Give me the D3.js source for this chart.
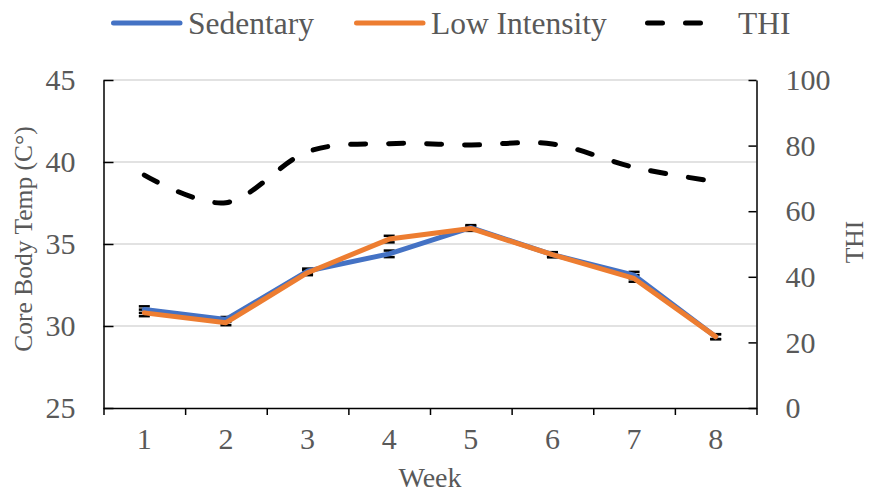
<html>
<head>
<script src="https://cdn.jsdelivr.net/npm/d3@7"></script>
<style>
  body { margin: 0; background: #fff; }
  text { font-family: "Liberation Serif", "Times New Roman", serif; fill: #595959; }
  .grid line { stroke: #d9d9d9; stroke-width: 1.5; }
  .axis path, .axis line { stroke: #000; stroke-width: 1.5; }
</style>
</head>
<body>
<script>
// data
var weeks = ["1", "2", "3", "4", "5", "6", "7", "8"];
var sedentary = [31.0, 30.4, 33.35, 34.4, 36.0, 34.35, 33.1, 29.35];
var sedentaryErr = [0.2, 0.15, 0.15, 0.2, 0.15, 0.15, 0.2, 0.15];
var lowIntensity = [30.8, 30.2, 33.25, 35.3, 35.95, 34.35, 32.9, 29.35];
var lowIntensityErr = [0.2, 0.15, 0.15, 0.2, 0.15, 0.15, 0.2, 0.15];
var thi = [71.0, 62.6, 78.1, 80.6, 80.2, 80.5, 73.4, 69.0];
var leftTicks = [25, 30, 35, 40, 45];
var rightTicks = [0, 20, 40, 60, 80, 100];

var width = 869, height = 493;
var plotLeft = 103.5, plotRight = 756.5, plotTop = 80, plotBottom = 408;

var svg = d3.select("body").append("svg")
    .attr("width", width)
    .attr("height", height);

var x = d3.scaleBand().domain(weeks).range([plotLeft, plotRight]);
var xEdge = d3.scaleLinear().domain([0, weeks.length]).range([plotLeft, plotRight]);
var y = d3.scaleLinear().domain([25, 45]).range([plotBottom, plotTop]);
var y2 = d3.scaleLinear().domain([0, 100]).range([plotBottom, plotTop]);
var cx = function(i) { return x(weeks[i]) + x.bandwidth() / 2; };

// gridlines (left axis)
svg.append("g")
    .attr("class", "grid")
    .selectAll("line")
    .data(leftTicks.slice(1))
    .enter().append("line")
        .attr("x1", plotLeft)
        .attr("x2", plotRight)
        .attr("y1", function(d) { return y(d); })
        .attr("y2", function(d) { return y(d); });

// left axis, ticks inside
svg.append("g")
    .attr("class", "axis")
    .attr("transform", "translate(" + plotLeft + ",0)")
    .call(d3.axisLeft(y).tickValues(leftTicks).tickSize(-10).tickSizeOuter(0).tickPadding(28));

// right axis, ticks inside
svg.append("g")
    .attr("class", "axis")
    .attr("transform", "translate(" + plotRight + ",0)")
    .call(d3.axisRight(y2).tickValues(rightTicks).tickSize(-8).tickSizeOuter(0).tickPadding(29));

// bottom axis: ticks between categories
svg.append("g")
    .attr("class", "axis")
    .attr("transform", "translate(0," + plotBottom + ")")
    .call(d3.axisBottom(xEdge).ticks(weeks.length).tickFormat("").tickSize(7).tickSizeOuter(0));

// bottom labels
var gb = svg.append("g")
    .attr("transform", "translate(0," + plotBottom + ")")
    .call(d3.axisBottom(x).tickSize(0).tickPadding(20));
gb.select(".domain").remove();

svg.selectAll(".tick text")
    .style("font-family", "Liberation Serif")
    .style("font-size", "30px")
    .attr("fill", "#595959");

// axis titles
svg.append("text")
    .attr("transform", "translate(32,239) rotate(-90)")
    .attr("text-anchor", "middle")
    .style("font-size", "25.5px")
    .text("Core Body Temp (C°)");

svg.append("text")
    .attr("transform", "translate(863,242) rotate(-90)")
    .attr("text-anchor", "middle")
    .style("font-size", "25.5px")
    .text("THI");

svg.append("text")
    .attr("x", (plotLeft + plotRight) / 2)
    .attr("y", 487)
    .attr("text-anchor", "middle")
    .style("font-size", "28px")
    .text("Week");

// THI, smoothed dashed line
var thiLine = d3.line()
    .x(function(d, i) { return cx(i); })
    .y(function(d) { return y2(d); })
    .curve(d3.curveCardinal.tension(0));

svg.append("path")
    .datum(thi)
    .attr("d", thiLine)
    .attr("fill", "none")
    .attr("stroke", "#000")
    .attr("stroke-width", 5)
    .attr("stroke-linecap", "round")
    .attr("stroke-dasharray", "15 23");

// error bars
function errorBars(vals, errs) {
    var g = svg.append("g");
    vals.forEach(function(v, i) {
        var xc = cx(i);
        g.append("line")
            .attr("x1", xc).attr("x2", xc)
            .attr("y1", y(v - errs[i])).attr("y2", y(v + errs[i]))
            .attr("stroke", "#000").attr("stroke-width", 1.5);
        [v - errs[i], v + errs[i]].forEach(function(e) {
            g.append("line")
                .attr("x1", xc - 5.5).attr("x2", xc + 5.5)
                .attr("y1", y(e)).attr("y2", y(e))
                .attr("stroke", "#000").attr("stroke-width", 2.5);
        });
    });
}
errorBars(sedentary, sedentaryErr);
errorBars(lowIntensity, lowIntensityErr);

var tempLine = d3.line()
    .x(function(d, i) { return cx(i); })
    .y(function(d) { return y(d); });

svg.append("path")
    .datum(sedentary)
    .attr("d", tempLine)
    .attr("fill", "none")
    .attr("stroke", "#4472c4")
    .attr("stroke-width", 5)
    .attr("stroke-linejoin", "round")
    .attr("stroke-linecap", "round");

svg.append("path")
    .datum(lowIntensity)
    .attr("d", tempLine)
    .attr("fill", "none")
    .attr("stroke", "#ed7d31")
    .attr("stroke-width", 5)
    .attr("stroke-linejoin", "round")
    .attr("stroke-linecap", "round");

// legend
var legend = [
    {name: "Sedentary", color: "#4472c4", dash: null, x: 111},
    {name: "Low Intensity", color: "#ed7d31", dash: null, x: 354},
    {name: "THI", color: "#000", dash: "15 23", x: 645}
];
var lg = svg.append("g");
legend.forEach(function(l) {
    lg.append("line")
        .attr("x1", l.x + 2.5).attr("x2", l.x + 69)
        .attr("y1", 23).attr("y2", 23)
        .attr("stroke", l.color)
        .attr("stroke-width", 5)
        .attr("stroke-linecap", "round")
        .attr("stroke-dasharray", l.dash);
    lg.append("text")
        .attr("x", l.x + 77 + (l.name == "THI" ? 16 : 0))
        .attr("y", 34)
        .style("font-size", "31.5px")
        .text(l.name);
});
</script>
</body>
</html>
